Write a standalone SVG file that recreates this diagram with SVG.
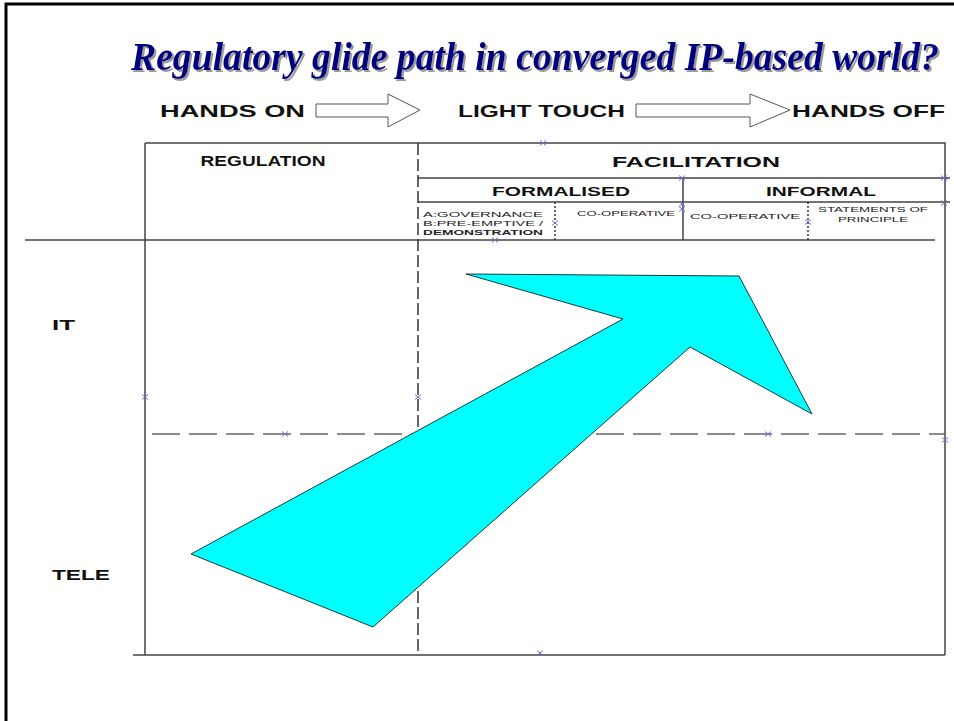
<svg xmlns="http://www.w3.org/2000/svg" xmlns:xlink="http://www.w3.org/1999/xlink" width="954" height="721" viewBox="0 0 954 721">
<style>
.title{font-family:"Liberation Serif","Times New Roman",serif;font-weight:bold;font-style:italic;font-size:41px}
.head{font-family:"Liberation Sans",Arial,sans-serif;font-weight:bold;fill:#111}
.small{font-family:"Liberation Sans",Arial,sans-serif;fill:#222}
.ln{stroke:#444;stroke-width:1.5;fill:none}
.dash{stroke:#333;stroke-width:1.5;fill:none;stroke-dasharray:12 4}
.hdash{stroke:#666;stroke-width:1.5;fill:none;stroke-dasharray:28 9}
.dot{stroke:#333;stroke-width:1.5;fill:none;stroke-dasharray:2 2}
.blk{fill:#fff;stroke:#555;stroke-width:1}
.mk{stroke:#6b6bd6;stroke-width:1;fill:none}
</style>
<defs>
<path id="x" class="mk" d="M-3,-2.5 L3,2.5 M-3,2.5 L3,-2.5"/>
<filter id="shadow" x="-5%" y="-20%" width="110%" height="140%">
<feDropShadow dx="2" dy="2" stdDeviation="0.6" flood-color="#9a9a9a" flood-opacity="1"/>
</filter>
</defs>
<rect width="954" height="721" fill="#fff"/>
<rect x="6" y="4" width="960" height="730" fill="none" stroke="#000" stroke-width="3"/>

<g id="title">
<text class="title" x="131" y="70" fill="#000080" filter="url(#shadow)" textLength="808" lengthAdjust="spacingAndGlyphs">Regulatory glide path in converged IP-based world?</text>
</g>

<g id="scale">
<text class="head" x="160" y="117" font-size="17" textLength="145" lengthAdjust="spacingAndGlyphs">HANDS ON</text>
<path class="blk" d="M316,104 H388 V94 L420,110 L388,127 V117 H316 Z"/>
<text class="head" x="458" y="117" font-size="17" textLength="167" lengthAdjust="spacingAndGlyphs">LIGHT TOUCH</text>
<path class="blk" d="M636,104 H750 V94 L790,110 L750,127 V117 H636 Z"/>
<text class="head" x="792" y="117" font-size="17" textLength="153" lengthAdjust="spacingAndGlyphs">HANDS OFF</text>
</g>

<g id="grid">
<path class="ln" d="M145,143 H945 V655 M145,143 V655 M133,655 H945 M25,240 H935 M418,178 H950 M418,202 H950 M683,178 V240"/>
<path class="dash" d="M418,143 V655"/>
<path class="dot" d="M555,202 V240 M808,202 V240"/>
<path class="hdash" d="M152,434 H945"/>
</g>

<g id="arrow">
<polygon points="191,554 623,319 466,274 739,276 812,414 690,347 373,627" fill="#00ffff" stroke="#1a3a3a" stroke-width="1"/>
</g>

<g id="labels">
<text class="head" x="263" y="166" font-size="14" text-anchor="middle" textLength="125" lengthAdjust="spacingAndGlyphs">REGULATION</text>
<text class="head" x="696" y="167" font-size="14" text-anchor="middle" textLength="168" lengthAdjust="spacingAndGlyphs">FACILITATION</text>
<text class="head" x="561" y="196" font-size="12" text-anchor="middle" textLength="138" lengthAdjust="spacingAndGlyphs">FORMALISED</text>
<text class="head" x="821" y="196" font-size="12" text-anchor="middle" textLength="110" lengthAdjust="spacingAndGlyphs">INFORMAL</text>
<text class="small" font-size="7.5" x="423" y="217" textLength="120" lengthAdjust="spacingAndGlyphs">A:GOVERNANCE</text>
<text class="small" font-size="7.5" x="423" y="226" textLength="120" lengthAdjust="spacingAndGlyphs">B:PRE-EMPTIVE /</text>
<text class="small" font-size="7.5" x="423" y="235" font-weight="bold" textLength="120" lengthAdjust="spacingAndGlyphs">DEMONSTRATION</text>
<text class="small" font-size="7.5" x="577" y="216" textLength="98" lengthAdjust="spacingAndGlyphs">CO-OPERATIVE</text>
<text class="small" font-size="7.5" x="690" y="219" textLength="110" lengthAdjust="spacingAndGlyphs">CO-OPERATIVE</text>
<text class="small" font-size="7.5" x="873" y="212" text-anchor="middle" textLength="110" lengthAdjust="spacingAndGlyphs">STATEMENTS OF</text>
<text class="small" font-size="7.5" x="873" y="222" text-anchor="middle" textLength="70" lengthAdjust="spacingAndGlyphs">PRINCIPLE</text>
<text class="head" x="52" y="330" font-size="15" textLength="23" lengthAdjust="spacingAndGlyphs">IT</text>
<text class="head" x="52" y="580" font-size="15" textLength="58" lengthAdjust="spacingAndGlyphs">TELE</text>
</g>

<g id="markers">
<use xlink:href="#x" x="543" y="143"/>
<use xlink:href="#x" x="682" y="178"/>
<use xlink:href="#x" x="944" y="178"/>
<use xlink:href="#x" x="682" y="204"/>
<use xlink:href="#x" x="682" y="209"/>
<use xlink:href="#x" x="944" y="203"/>
<use xlink:href="#x" x="555" y="223"/>
<use xlink:href="#x" x="808" y="222"/>
<use xlink:href="#x" x="495" y="240"/>
<use xlink:href="#x" x="145" y="397"/>
<use xlink:href="#x" x="418" y="397"/>
<use xlink:href="#x" x="285" y="434"/>
<use xlink:href="#x" x="768" y="434"/>
<use xlink:href="#x" x="945" y="440"/>
<use xlink:href="#x" x="540" y="653"/>
</g>
</svg>
